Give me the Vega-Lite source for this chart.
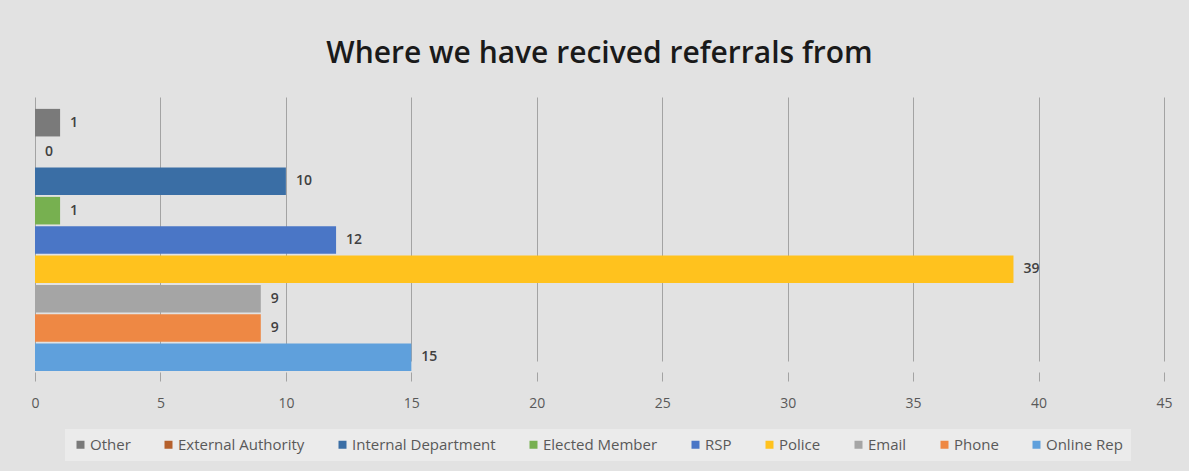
{
  "$schema": "https://vega.github.io/schema/vega-lite/v6.json",
  "autosize": {"type": "none"},
  "width": 1129,
  "height": 275,
  "padding": {"left": 35, "top": 97, "right": 25, "bottom": 99},
  "background": "#e2e2e2",
  "title": {
    "text": "Where we have recived referrals from",
    "font": "Open Sans",
    "fontSize": 30,
    "fontWeight": 600,
    "color": "#1a1a1a",
    "anchor": "middle",
    "offset": 28
  },
  "config": {
    "view": {"stroke": null},
    "font": "Open Sans"
  },
  "data": {
    "values": [
      {"source": "Other", "count": 1},
      {"source": "External Authority", "count": 0},
      {"source": "Internal Department", "count": 10},
      {"source": "Elected Member", "count": 1},
      {"source": "RSP", "count": 12},
      {"source": "Police", "count": 39},
      {"source": "Email", "count": 9},
      {"source": "Phone", "count": 9},
      {"source": "Online Rep", "count": 15}
    ]
  },
  "encoding": {
    "y": {
      "field": "source",
      "type": "nominal",
      "sort": ["Other", "External Authority", "Internal Department", "Elected Member", "RSP", "Police", "Email", "Phone", "Online Rep"],
      "scale": {"range": [11, 275], "paddingInner": 0.06, "paddingOuter": 0.03},
      "axis": null
    },
    "x": {
      "field": "count",
      "type": "quantitative",
      "scale": {"domain": [0, 45], "nice": false},
      "axis": {
        "values": [0, 5, 10, 15, 20, 25, 30, 35, 40, 45],
        "title": null,
        "domain": false,
        "grid": true,
        "gridColor": "#a3a3a3",
        "gridWidth": 1,
        "tickSize": 9,
        "tickColor": "#a3a3a3",
        "labelFlush": false,
        "labelPadding": 15,
        "labelFont": "Open Sans",
        "labelFontSize": 14,
        "labelColor": "#595959"
      }
    }
  },
  "layer": [
    {
      "mark": {"type": "bar"},
      "encoding": {
        "color": {
          "field": "source",
          "type": "nominal",
          "sort": ["Other", "External Authority", "Internal Department", "Elected Member", "RSP", "Police", "Email", "Phone", "Online Rep"],
          "scale": {
            "domain": ["Other", "External Authority", "Internal Department", "Elected Member", "RSP", "Police", "Email", "Phone", "Online Rep"],
            "range": ["#7a7a7a", "#b5602c", "#3a6ea5", "#77b050", "#4a76c6", "#ffc21e", "#a5a5a5", "#ee8844", "#5fa0dc"]
          },
          "legend": {
            "orient": "none",
            "legendX": 30,
            "legendY": 332,
            "direction": "horizontal",
            "columns": 9,
            "title": null,
            "fillColor": "#ebebeb",
            "padding": 8,
            "symbolType": "square",
            "symbolSize": 64,
            "symbolStrokeWidth": 0,
            "labelFont": "Open Sans",
            "labelFontSize": 15,
            "labelColor": "#595959",
            "labelOffset": 2,
            "columnPadding": 30,
            "labelLimit": 300
          }
        }
      }
    },
    {
      "mark": {"type": "text", "align": "left", "dx": 10, "font": "Open Sans", "fontSize": 14, "fontWeight": 600, "color": "#404040"},
      "encoding": {
        "text": {"field": "count", "type": "quantitative"}
      }
    }
  ]
}
